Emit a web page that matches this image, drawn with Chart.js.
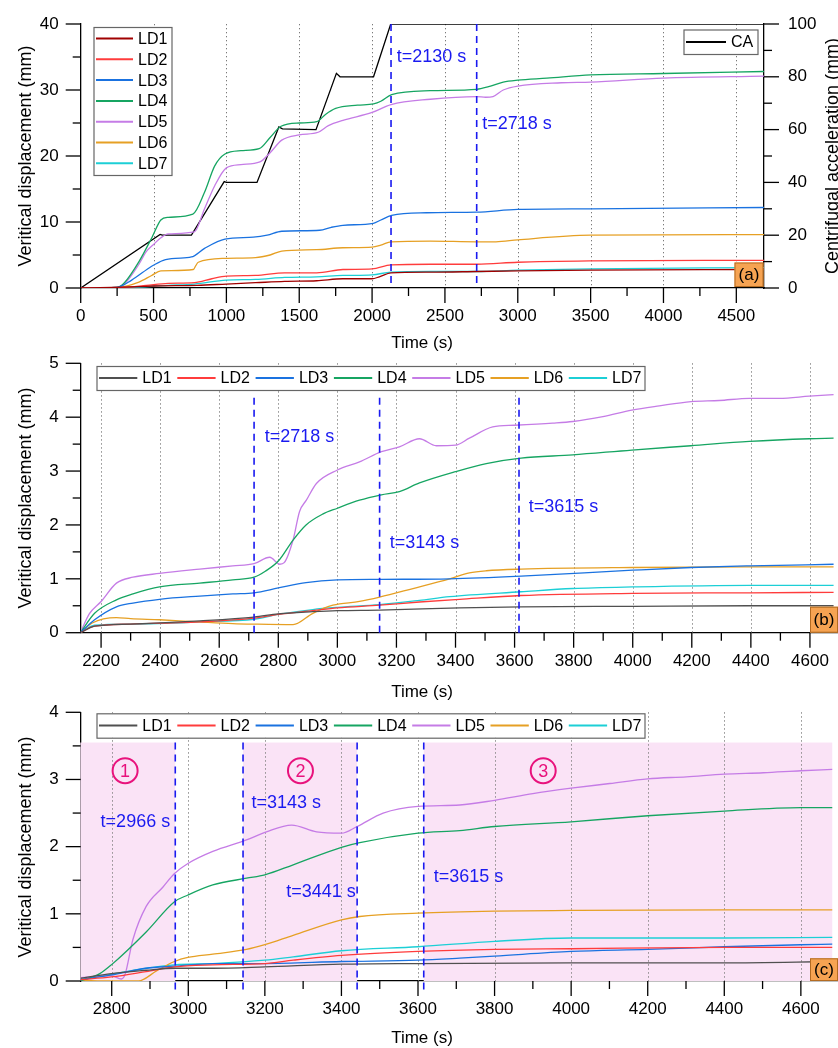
<!DOCTYPE html>
<html>
<head>
<meta charset="utf-8">
<title>Vertical displacement</title>
<script src="https://cdn.jsdelivr.net/npm/chart.js@4.4.1/dist/chart.umd.min.js"></script>
<style>
  body { margin: 0; background: #fff; }
  .panel { position: absolute; left: 0; width: 838px; }
  #pa { top: 0; height: 352px; }
  #pb { top: 352px; height: 350px; }
  #pc { top: 702px; height: 346px; }
</style>
</head>
<body>
<div class="panel" id="pa"><canvas id="chartA"></canvas></div>
<div class="panel" id="pb"><canvas id="chartB"></canvas></div>
<div class="panel" id="pc"><canvas id="chartC"></canvas></div>
<script>
// Noms des capteurs
const sensors = ['LD1', 'LD2', 'LD3', 'LD4', 'LD5', 'LD6', 'LD7'];

// Graduations
const timeTicksA = [0, 500, 1000, 1500, 2000, 2500, 3000, 3500, 4000, 4500];
const timeTicksB = [2200, 2400, 2600, 2800, 3000, 3200, 3400, 3600, 3800, 4000, 4200, 4400, 4600];
const timeTicksC = [2800, 3000, 3200, 3400, 3600, 3800, 4000, 4200, 4400, 4600];
const dispTicksA = [0, 10, 20, 30, 40];
const caTicksA = [0, 20, 40, 60, 80, 100];
const dispTicksB = [0, 1, 2, 3, 4, 5];
const dispTicksC = [0, 1, 2, 3, 4];

// (a) essai complet : [temps (s), déplacement (mm)]
const caA = [[0, 0], [545, 20.3], [560, 20], [760, 20], [985, 40.3], [1000, 40], [1210, 40], [1360, 61], [1385, 60.3], [1615, 60], [1755, 81.3], [1780, 80], [2010, 80], [2128, 100], [4690, 100]];
const ld1A = [[0, 0], [400, 0.2], [500, 0.3], [800, 0.4], [1000, 0.6], [1200, 0.8], [1400, 1.0], [1620, 1.1], [1800, 1.4], [2000, 1.4], [2050, 1.7], [2130, 2.3], [2400, 2.4], [2718, 2.5], [3000, 2.6], [3500, 2.7], [4690, 2.8]];
const ld2A = [[0, 0], [300, 0.1], [450, 0.4], [600, 0.7], [780, 0.8], [900, 1.4], [1000, 1.8], [1200, 1.9], [1400, 2.3], [1620, 2.3], [1800, 2.8], [2000, 2.9], [2130, 3.5], [2400, 3.6], [2718, 3.6], [3000, 3.9], [3500, 4.1], [4690, 4.2]];
const ld3A = [[0, 0], [250, 0.1], [350, 1.2], [487, 3.3], [567, 4.2], [650, 4.5], [760, 4.7], [850, 6.0], [990, 7.4], [1185, 7.7], [1280, 8.0], [1380, 8.6], [1640, 8.75], [1720, 9.2], [1800, 9.5], [2008, 9.8], [2060, 10.3], [2134, 11.0], [2374, 11.4], [2718, 11.5], [3000, 11.9], [3500, 12.0], [4690, 12.2]];
const ld4A = [[0, 0], [250, 0.1], [300, 0.8], [400, 4.0], [490, 7.7], [550, 10.3], [600, 10.7], [770, 11.2], [850, 14.5], [920, 18.5], [990, 20.3], [1100, 20.8], [1225, 21.1], [1300, 22.8], [1375, 24.5], [1500, 25.0], [1620, 25.2], [1680, 26.3], [1750, 27.2], [1900, 27.7], [2010, 27.9], [2060, 28.3], [2134, 29.3], [2400, 29.9], [2718, 30.1], [2800, 30.5], [2900, 31.2], [3000, 31.5], [3200, 31.8], [3500, 32.3], [4000, 32.5], [4690, 32.8]];
const ld5A = [[0, 0], [250, 0.1], [300, 0.6], [400, 3.6], [450, 5.5], [500, 6.6], [550, 7.6], [600, 8.2], [780, 8.5], [850, 12.0], [920, 15.5], [1000, 18.2], [1100, 18.7], [1230, 19.1], [1300, 20.5], [1380, 22.4], [1500, 23.2], [1630, 23.6], [1700, 24.6], [1800, 25.4], [2000, 26.6], [2130, 27.8], [2400, 28.6], [2718, 29.0], [2780, 28.9], [2830, 29.0], [2900, 30.0], [3000, 30.6], [3300, 31.1], [3500, 31.2], [4000, 31.8], [4690, 32.1]];
const ld6A = [[0, 0], [250, 0.1], [400, 0.9], [487, 1.9], [550, 2.6], [773, 2.8], [790, 3.4], [807, 3.9], [990, 4.5], [1200, 4.6], [1300, 5.0], [1380, 5.6], [1620, 5.8], [1800, 6.1], [2000, 6.2], [2060, 6.5], [2130, 7.0], [2400, 7.1], [2718, 7.0], [2850, 7.0], [3000, 7.3], [3500, 8.0], [4690, 8.1]];
const ld7A = [[0, 0], [300, 0.05], [600, 0.4], [780, 0.6], [1000, 1.2], [1200, 1.3], [1400, 1.6], [1620, 1.7], [1800, 1.9], [2000, 2.0], [2130, 2.4], [2400, 2.5], [2718, 2.5], [3000, 2.7], [3500, 2.9], [4690, 3.1]];

// (b) à partir de t=2130 s
const ld1B = [[2130, 0], [2178, 0.12], [2300, 0.16], [2534, 0.22], [2718, 0.29], [2800, 0.35], [2917, 0.39], [3000, 0.41], [3143, 0.42], [3414, 0.46], [3622, 0.48], [4000, 0.49], [4395, 0.50], [4680, 0.50]];
const ld2B = [[2130, 0], [2178, 0.12], [2300, 0.16], [2534, 0.20], [2718, 0.27], [2800, 0.34], [2917, 0.41], [3000, 0.46], [3143, 0.51], [3278, 0.57], [3414, 0.62], [3622, 0.69], [4000, 0.73], [4395, 0.74], [4680, 0.75]];
const ld3B = [[2130, 0], [2178, 0.24], [2252, 0.48], [2308, 0.55], [2398, 0.62], [2534, 0.68], [2646, 0.72], [2718, 0.74], [2800, 0.83], [2894, 0.93], [3000, 0.98], [3149, 0.99], [3380, 1.00], [3622, 1.05], [4000, 1.16], [4197, 1.21], [4395, 1.24], [4680, 1.27]];
const ld4B = [[2130, 0], [2178, 0.36], [2252, 0.61], [2308, 0.72], [2398, 0.85], [2534, 0.92], [2646, 0.98], [2718, 1.03], [2756, 1.14], [2800, 1.33], [2850, 1.72], [2894, 2.0], [2950, 2.2], [3000, 2.31], [3075, 2.46], [3149, 2.56], [3210, 2.62], [3278, 2.78], [3400, 2.99], [3504, 3.14], [3622, 3.24], [3797, 3.30], [3997, 3.39], [4197, 3.47], [4395, 3.55], [4598, 3.60], [4680, 3.61]];
const ld5B = [[2130, 0], [2160, 0.35], [2200, 0.58], [2252, 0.92], [2308, 1.03], [2398, 1.10], [2534, 1.18], [2646, 1.24], [2718, 1.28], [2771, 1.40], [2805, 1.27], [2820, 1.30], [2850, 1.72], [2872, 2.25], [2895, 2.46], [2929, 2.77], [3000, 3.02], [3075, 3.17], [3149, 3.36], [3210, 3.45], [3278, 3.60], [3335, 3.47], [3400, 3.48], [3447, 3.61], [3526, 3.82], [3600, 3.85], [3729, 3.89], [3797, 3.92], [3899, 4.01], [3997, 4.13], [4090, 4.21], [4197, 4.29], [4293, 4.31], [4395, 4.35], [4496, 4.35], [4598, 4.39], [4680, 4.42]];
const ld6B = [[2130, 0], [2170, 0.18], [2252, 0.28], [2300, 0.26], [2398, 0.24], [2534, 0.20], [2646, 0.17], [2718, 0.16], [2850, 0.15], [2917, 0.36], [2985, 0.51], [3075, 0.58], [3143, 0.66], [3256, 0.82], [3380, 1.0], [3447, 1.11], [3504, 1.15], [3622, 1.18], [4000, 1.21], [4395, 1.22], [4680, 1.22]];
const ld7B = [[2130, 0], [2178, 0.14], [2308, 0.16], [2534, 0.20], [2718, 0.25], [2800, 0.34], [2917, 0.43], [3000, 0.47], [3143, 0.52], [3278, 0.60], [3380, 0.67], [3622, 0.76], [3797, 0.82], [4000, 0.85], [4395, 0.88], [4680, 0.88]];

// (c) à partir de t=2718 s
const ld1C = [[2718, 0.04], [2799, 0.11], [2890, 0.16], [2964, 0.19], [3064, 0.19], [3200, 0.21], [3400, 0.25], [3600, 0.26], [4000, 0.27], [4400, 0.27], [4682, 0.29]];
const ld2C = [[2718, 0.02], [2799, 0.06], [2890, 0.14], [2964, 0.21], [3064, 0.24], [3200, 0.26], [3274, 0.31], [3400, 0.38], [3600, 0.44], [3800, 0.47], [4000, 0.48], [4400, 0.50], [4682, 0.50]];
const ld3C = [[2718, 0.02], [2799, 0.09], [2890, 0.19], [2964, 0.22], [3064, 0.26], [3200, 0.26], [3400, 0.29], [3600, 0.31], [3709, 0.34], [3800, 0.37], [4000, 0.44], [4200, 0.47], [4400, 0.51], [4600, 0.54], [4682, 0.55]];
const ld4C = [[2718, 0.0], [2769, 0.11], [2799, 0.24], [2890, 0.73], [2964, 1.18], [2999, 1.28], [3064, 1.43], [3152, 1.53], [3200, 1.58], [3274, 1.73], [3400, 1.99], [3448, 2.06], [3600, 2.20], [3709, 2.24], [3800, 2.30], [4000, 2.37], [4200, 2.46], [4400, 2.53], [4600, 2.58], [4682, 2.58]];
const ld5C = [[2718, 0.05], [2799, 0.08], [2825, 0.03], [2835, 0.10], [2855, 0.61], [2890, 1.11], [2934, 1.40], [2964, 1.60], [2999, 1.75], [3064, 1.93], [3152, 2.10], [3204, 2.22], [3270, 2.32], [3335, 2.22], [3400, 2.20], [3441, 2.30], [3509, 2.50], [3600, 2.60], [3709, 2.62], [3800, 2.69], [3900, 2.79], [4000, 2.87], [4101, 2.94], [4200, 3.01], [4301, 3.04], [4400, 3.08], [4502, 3.10], [4600, 3.13], [4682, 3.15]];
const ld6C = [[2718, 0.01], [2800, 0.0], [2870, 0.0], [2917, 0.15], [2964, 0.29], [2999, 0.35], [3064, 0.40], [3152, 0.47], [3200, 0.54], [3274, 0.68], [3400, 0.91], [3448, 0.96], [3600, 1.01], [3800, 1.04], [4000, 1.05], [4400, 1.06], [4682, 1.06]];
const ld7C = [[2718, 0.02], [2799, 0.10], [2890, 0.19], [2964, 0.24], [3064, 0.26], [3200, 0.31], [3274, 0.36], [3400, 0.45], [3600, 0.51], [3800, 0.59], [4000, 0.64], [4400, 0.64], [4682, 0.65]];

// Instants repères (s)
const marksA = [2130, 2718];
const marksB = [2718, 3143, 3615];
const marksC = [2966, 3143, 3441, 3615];
// Phases 1, 2, 3 de la figure (c)
const phasesC = [[2718, 2966], [3143, 3441], [3615, 4682]];

const FONT = "'Liberation Sans', Arial, sans-serif";
const BLUE = '#1a1af0';
const MAG = '#e8127c';
const colorsA = ['#a00000', '#ff3c3c', '#1a72e0', '#16a562', '#c57ce6', '#e6a024', '#1ccfd6'];
const colorsBC = ['#505050', '#ff3c3c', '#1a72e0', '#16a562', '#c57ce6', '#e6a024', '#1ccfd6'];

Chart.defaults.font.family = FONT;
Chart.defaults.color = '#000';

function series(list, colors) {
  return list.map((d, i) => ({
    label: sensors[i],
    data: d.map(p => ({ x: p[0], y: p[1] })),
    borderColor: colors[i],
    borderWidth: 1.3,
    pointRadius: 0,
    cubicInterpolationMode: 'monotone',
    yAxisID: 'y'
  }));
}

function seg(ctx, x0, y0, x1, y1) {
  ctx.beginPath(); ctx.moveTo(x0, y0); ctx.lineTo(x1, y1); ctx.stroke();
}

// petits traits de graduation (majeurs et mineurs)
function axisTicks(ctx, scale, step, minor, side, ca) {
  ctx.strokeStyle = '#000'; ctx.lineWidth = 1.3;
  for (let k = Math.ceil(scale.min / minor - 1e-9); k * minor <= scale.max + 1e-9; k++) {
    const v = k * minor;
    const major = Math.abs(v / step - Math.round(v / step)) < 1e-6;
    const len = major ? 15 : 8;
    const p = scale.getPixelForValue(v);
    if (side === 'bottom') seg(ctx, p, ca.bottom, p, ca.bottom + len);
    else if (side === 'left') seg(ctx, ca.left, p, ca.left - len, p);
    else seg(ctx, ca.right, p, ca.right + len, p);
  }
}

function drawLegend(ctx, lg, items) {
  ctx.fillStyle = '#fff';
  ctx.fillRect(lg.box[0], lg.box[1], lg.box[2], lg.box[3]);
  ctx.strokeStyle = '#666'; ctx.lineWidth = 1.2;
  ctx.strokeRect(lg.box[0] + 0.5, lg.box[1] + 0.5, lg.box[2], lg.box[3]);
  ctx.font = '16px ' + FONT; ctx.textBaseline = 'middle'; ctx.textAlign = 'left';
  items.forEach((it, i) => {
    const x = lg.x + (lg.stepX || 0) * i;
    const y = lg.y + (lg.stepY || 0) * i;
    ctx.strokeStyle = it.color; ctx.lineWidth = 2;
    seg(ctx, x, y, x + lg.len, y);
    ctx.fillStyle = '#000';
    ctx.fillText(it.label, x + lg.gap, y + 1);
  });
}

// décor d'un panneau : grille pointillée, repères, textes, légendes
function makeDecor(o) {
  return {
    id: 'decor',
    beforeDatasetsDraw(chart) {
      const ctx = chart.ctx, xs = chart.scales.x, ys = chart.scales.y, ca = chart.chartArea;
      ctx.save();
      (o.shades || []).forEach(s => {
        const x0 = xs.getPixelForValue(s[0]), x1 = xs.getPixelForValue(s[1]);
        const yt = ys.getPixelForValue(o.shadeTop);
        ctx.fillStyle = '#fae3f6';
        ctx.fillRect(x0, yt, x1 - x0, ca.bottom - yt);
      });
      ctx.strokeStyle = '#7a7a7a'; ctx.lineWidth = 1; ctx.setLineDash([1.3, 2.7]);
      o.grid.forEach(v => {
        const px = Math.round(xs.getPixelForValue(v)) + 0.5;
        if (px > ca.left + 2) seg(ctx, px, ca.top, px, ca.bottom);
      });
      ctx.restore();
    },
    afterDatasetsDraw(chart) {
      const ctx = chart.ctx, xs = chart.scales.x, ys = chart.scales.y, ca = chart.chartArea;
      ctx.save();
      ctx.strokeStyle = BLUE; ctx.lineWidth = 1.6; ctx.setLineDash([7, 5]);
      o.marks.forEach(t => {
        const px = xs.getPixelForValue(t);
        seg(ctx, px, ys.getPixelForValue(o.markTop), px, ca.bottom + o.markDrop);
      });
      ctx.setLineDash([]);
      ctx.fillStyle = BLUE; ctx.font = '18px ' + FONT; ctx.textBaseline = 'middle'; ctx.textAlign = 'left';
      o.notes.forEach(n => ctx.fillText(n[0], xs.getPixelForValue(n[1]), ys.getPixelForValue(n[2])));
      (o.circles || []).forEach(c => {
        const cx = xs.getPixelForValue(c[1]), cy = ys.getPixelForValue(c[2]);
        ctx.strokeStyle = MAG; ctx.lineWidth = 2;
        ctx.beginPath(); ctx.arc(cx, cy, 12.5, 0, Math.PI * 2); ctx.stroke();
        ctx.fillStyle = MAG; ctx.font = '18px ' + FONT; ctx.textAlign = 'center';
        ctx.fillText(c[0], cx, cy + 1);
      });
      axisTicks(ctx, xs, o.xt[0], o.xt[1], 'bottom', ca);
      axisTicks(ctx, ys, o.yt[0], o.yt[1], 'left', ca);
      if (chart.scales.y2) axisTicks(ctx, chart.scales.y2, o.y2t[0], o.y2t[1], 'right', ca);
      const ds = chart.data.datasets;
      drawLegend(ctx, o.legend, ds.filter(d => d.yAxisID === 'y').map(d => ({ label: d.label, color: d.borderColor })));
      if (o.legend2) drawLegend(ctx, o.legend2, ds.filter(d => d.yAxisID === 'y2').map(d => ({ label: d.label, color: d.borderColor })));
      const b = o.tag.box;
      ctx.fillStyle = '#f6a352'; ctx.fillRect(b[0], b[1], b[2], b[3]);
      ctx.strokeStyle = '#b36b22'; ctx.lineWidth = 1; ctx.strokeRect(b[0] + 0.5, b[1] + 0.5, b[2] - 1, b[3] - 1);
      ctx.fillStyle = '#000'; ctx.font = '17px ' + FONT; ctx.textAlign = 'center'; ctx.textBaseline = 'middle';
      ctx.fillText(o.tag.text, b[0] + b[2] / 2, b[1] + b[3] / 2 + 1);
      ctx.font = '17px ' + FONT;
      ctx.fillText('Time (s)', o.xTitle[0], o.xTitle[1]);
      ctx.font = '18px ' + FONT;
      o.yTitles.forEach(t => {
        ctx.save(); ctx.translate(t[1], t[2]); ctx.rotate(-Math.PI / 2);
        ctx.fillText(t[0], 0, 0); ctx.restore();
      });
      ctx.restore();
    }
  };
}

function fixedTicks(list) {
  return s => { s.ticks = list.map(v => ({ value: v })); };
}
// taille imposée de l'axe, sans marge ajoutée pour les étiquettes
function fixSize(prop, size) {
  return s => {
    s[prop] = size;
    s.paddingTop = 0; s.paddingBottom = 0; s.paddingLeft = 0; s.paddingRight = 0;
  };
}
function xAxis(min, max, list, height) {
  return {
    type: 'linear', min: min, max: max,
    afterBuildTicks: fixedTicks(list),
    afterFit: fixSize('height', height),
    grid: { display: false, drawTicks: false },
    border: { color: '#000', width: 1.3 },
    ticks: { padding: 18, autoSkip: false, maxRotation: 0, font: { size: 17 }, color: '#000', callback: v => String(v) }
  };
}
function yAxis(pos, min, max, list, width, pad) {
  return {
    type: 'linear', position: pos, min: min, max: max,
    afterBuildTicks: fixedTicks(list),
    afterFit: fixSize('width', width),
    grid: { display: false, drawTicks: false },
    border: { color: '#000', width: 1.3 },
    ticks: { padding: pad, autoSkip: false, font: { size: 17 }, color: '#000', callback: v => String(v) }
  };
}

const base = {
  animation: false, responsive: true, maintainAspectRatio: false, events: [],
  plugins: { legend: { display: false }, tooltip: { enabled: false } }
};

// (a)
new Chart(document.getElementById('chartA'), {
  type: 'line',
  data: { datasets: series([ld1A, ld2A, ld3A, ld4A, ld5A, ld6A, ld7A], colorsA).concat([{
    label: 'CA', data: caA.map(p => ({ x: p[0], y: p[1] })), borderColor: '#000',
    borderWidth: 1.3, pointRadius: 0, yAxisID: 'y2'
  }]) },
  options: Object.assign({}, base, {
    layout: { padding: { top: 24, left: 0, right: 0, bottom: 0 } },
    scales: {
      x: xAxis(0, 4690, timeTicksA, 64),
      y: yAxis('left', 0, 40, dispTicksA, 80.7, 22),
      y2: yAxis('right', 0, 100, caTicksA, 74, 24)
    }
  }),
  plugins: [makeDecor({
    grid: timeTicksA, xt: [500, 250], yt: [10, 5], y2t: [20, 10],
    marks: marksA, markTop: 40, markDrop: 0,
    notes: [['t=2130 s', 2169, 35.0], ['t=2718 s', 2756, 24.9]],
    legend: { box: [93.5, 27, 78, 148], x: 96, len: 37, gap: 42, y: 38.5, stepY: 20.8 },
    legend2: { box: [683.5, 29.5, 74, 24.5], x: 686, len: 40, gap: 45, y: 42 },
    tag: { text: '(a)', box: [734.5, 262.5, 29, 24.5] },
    xTitle: [422, 343],
    yTitles: [['Veritical displacement (mm)', 26, 156], ['Centrifugal acceleration (mm)', 833, 156]]
  })]
});

// (b)
new Chart(document.getElementById('chartB'), {
  type: 'line',
  data: { datasets: series([ld1B, ld2B, ld3B, ld4B, ld5B, ld6B, ld7B], colorsBC) },
  options: Object.assign({}, base, {
    layout: { padding: { top: 11.3, left: 0, right: 0, bottom: 0 } },
    scales: {
      x: xAxis(2131, 4695, timeTicksB, 69.3),
      y: yAxis('left', 0, 5, dispTicksB, 80.7, 22)
    }
  }),
  plugins: [makeDecor({
    grid: timeTicksB, xt: [200, 100], yt: [1, 0.5],
    marks: marksB, markTop: 4.36, markDrop: 2,
    notes: [['t=2718 s', 2754, 3.64], ['t=3143 s', 3177, 1.67], ['t=3615 s', 3648, 2.33]],
    legend: { box: [96.5, 14, 548, 24], x: 99, len: 38.3, gap: 43.3, y: 26, stepX: 78.3 },
    tag: { text: '(b)', box: [810, 254.7, 28, 26] },
    xTitle: [422, 340],
    yTitles: [['Veritical displacement (mm)', 26, 146]]
  })]
});

// (c)
new Chart(document.getElementById('chartC'), {
  type: 'line',
  data: { datasets: series([ld1C, ld2C, ld3C, ld4C, ld5C, ld6C, ld7C], colorsBC) },
  options: Object.assign({}, base, {
    layout: { padding: { top: 10.3, left: 0, right: 0, bottom: 0 } },
    scales: {
      x: xAxis(2719, 4697, timeTicksC, 67),
      y: yAxis('left', 0, 4, dispTicksC, 80.7, 22)
    }
  }),
  plugins: [makeDecor({
    grid: timeTicksC, xt: [200, 100], yt: [1, 0.5],
    shades: phasesC, shadeTop: 3.55,
    marks: marksC, markTop: 3.55, markDrop: 10,
    notes: [['t=2966 s', 2771, 2.36], ['t=3143 s', 3165, 2.65], ['t=3441 s', 3256, 1.33], ['t=3615 s', 3641, 1.55]],
    circles: [['1', 2835, 3.13], ['2', 3293, 3.13], ['3', 3927, 3.13]],
    legend: { box: [96.5, 11.3, 548, 24.4], x: 99, len: 38.3, gap: 43.3, y: 23.5, stepX: 78.3 },
    tag: { text: '(c)', box: [810, 256.3, 28, 22.7] },
    xTitle: [422, 336],
    yTitles: [['Veritical displacement (mm)', 26, 145]]
  })]
});
</script>
</body>
</html>
